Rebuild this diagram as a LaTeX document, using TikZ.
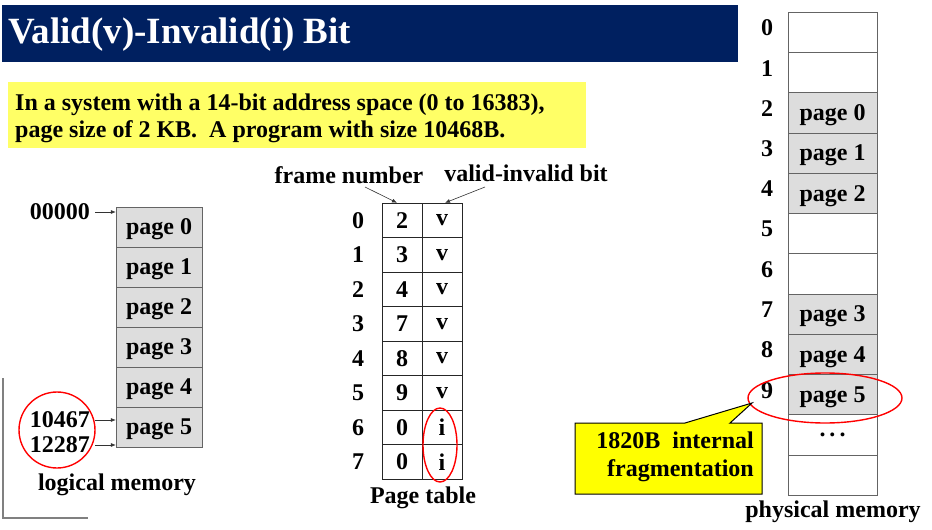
\documentclass[tikz,border=0pt]{standalone}
\usepackage{fontspec}
\setmainfont{Liberation Serif}
\usetikzlibrary{arrows.meta,calc}
\definecolor{navy}{RGB}{0,32,96}
\definecolor{lightyel}{RGB}{255,255,102}
\definecolor{cellgray}{RGB}{221,221,221}
\definecolor{edgegray}{RGB}{100,100,100}
\definecolor{calloutyel}{RGB}{255,255,0}
\begin{document}
\begin{tikzpicture}[x=1pt,y=-1pt,
  txt/.style={font=\fontsize{24}{27}\selectfont\bfseries, inner sep=0pt},
  lpage/.style={txt, text depth=0pt, draw=edgegray, fill=cellgray, minimum width=86pt, minimum height=40pt},
  tcell/.style={txt, draw=black!85, minimum width=40pt, minimum height=34.5pt},
  pcell/.style={txt, text depth=0pt, draw=edgegray, fill=white, minimum width=89pt, minimum height=40.25pt},
  pfull/.style={pcell, fill=cellgray},
  arr/.style={-{Latex[length=5pt,width=4pt]}, draw=black!80, line width=0.6pt},
  hl/.style={draw=red, line width=1.4pt}]
\useasboundingbox (0,0) rectangle (932,530);
% title bar
\node[fill=navy, minimum width=736pt, minimum height=57pt, inner sep=0pt, anchor=north west] (bar) at (2,5) {};
\node[txt, font=\fontsize{37}{40}\selectfont\bfseries, text=white, anchor=west] (title) at (8,35) {Valid(v)-Invalid(i) Bit};
% yellow statement
\node[fill=lightyel, minimum width=578pt, minimum height=66pt, inner sep=0pt, anchor=north west] (ybox) at (8,82) {};
\node[txt, font=\fontsize{24}{27}\selectfont\bfseries, align=left, anchor=west] (stmt) at (15,118) {In a system with a 14-bit address space (0 to 16383),\\page size of 2 KB.\ \ A program with size 10468B.};
% logical memory
\foreach \k in {0,...,5} \node[lpage] (l\k) at (159,{227+40*\k}) {page \k};
\node[txt, anchor=east] (a0) at (90,212) {00000};
\draw[arr] (a0.east) ++(5,0) -- (a0.east -| l0.west);
\node[txt, anchor=east] (a1) at (90,420) {10467};
\node[txt, anchor=east] (a2) at (90,445) {12287};
\draw[arr] ($(a1.east)+(5,0)$) -- (a1.east -| l5.west);
\draw[arr] ($(a2.east)+(5,0)$) -- (a2.east -| l5.west);
\draw[hl] (57,430) circle[radius=38];
\node[txt] (lmlab) at (117,485) {logical memory};
\draw[gray, line width=1.2pt] (3,378) -- (3,518) -- (88,518);
% page table
\foreach \k/\f/\b in {0/2/v,1/3/v,2/4/v,3/7/v,4/8/v,5/9/v,6/0/i,7/0/i} {
  \node[tcell] (f\k) at (402,{220.25+34.5*\k}) {\f};
  \node[tcell] (b\k) at (442,{220.25+34.5*\k}) {\b};
  \node[txt] (r\k) at (358,{220.25+34.5*\k}) {\k};
}
\node[txt] (fn) at (349,175) {frame number};
\node[txt] (vb) at (526,173) {valid-invalid bit};
\draw[arr] (365,187) -- ($(f0.north)+(-5,0)$);
\draw[arr] (485,187) -- ($(b0.north)+(3,0)$);
\draw[hl] (440,445) ellipse[x radius=17, y radius=37];
\node[txt] (ptlab) at (423,498) {Page table};
% physical memory
\foreach \k/\t/\s in {0//pcell,1//pcell,2/page 0/pfull,3/page 1/pfull,4/page 2/pfull,5//pcell,6//pcell,7/page 3/pfull,8/page 4/pfull,9/page 5/pfull,10/{.\,.\,.}/pcell,11//pcell}
  \node[\s] (p\k) at (832.5,{32.1+40.25*\k}) {\t};
\foreach \k in {0,...,9} \node[txt] (pn\k) at (767,{28+40.25*\k}) {\k};
\draw[hl] (825,398) ellipse[x radius=77, y radius=25];
\node[txt] (pmlab) at (833,512) {physical memory};
% callout
\filldraw[fill=calloutyel, draw=black, line width=1pt] (575,423) -- (685,423) -- (752,403) -- (730,423) -- (762,423) -- (762,494) -- (575,494) -- cycle;
\node[txt, align=right, anchor=east, font=\fontsize{24}{28}\selectfont\bfseries] (frag) at (754,457) {1820B\ \ internal\\fragmentation};
\end{tikzpicture}
\end{document}
